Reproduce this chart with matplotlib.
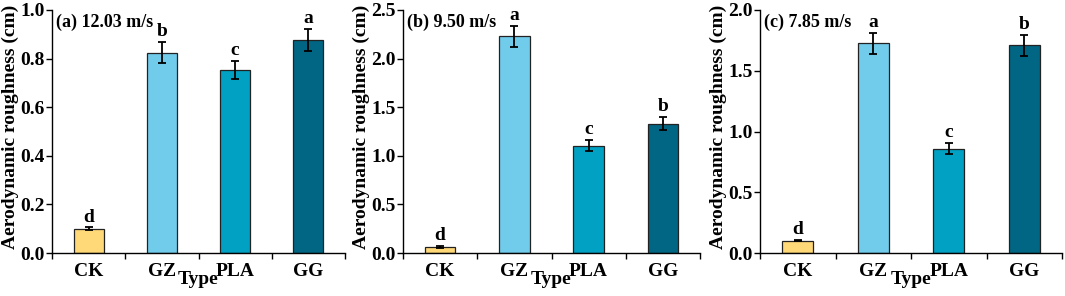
import matplotlib
matplotlib.use("Agg")
import matplotlib.pyplot as plt
import numpy as np

plt.rcParams['font.family'] = ['Liberation Serif', 'DejaVu Serif']
plt.rcParams['font.weight'] = 'bold'

categories = ["CK", "GZ", "PLA", "GG"]
colors = ["#FFD877", "#71CBEB", "#00A1C3", "#006684"]

titles = ["(a) 12.03 m/s", "(b) 9.50 m/s", "(c) 7.85 m/s"]
means_a = [0.100, 0.825, 0.753, 0.878]
errs_a = [0.005, 0.042, 0.037, 0.045]
letters_a = ["d", "b", "c", "a"]
means_b = [0.062, 2.23, 1.105, 1.33]
errs_b = [0.008, 0.11, 0.058, 0.065]
letters_b = ["d", "a", "c", "b"]
means_c = [0.100, 1.725, 0.858, 1.71]
errs_c = [0.005, 0.085, 0.045, 0.085]
letters_c = ["d", "a", "c", "b"]
ylims = [1.0, 2.5, 2.0]
ysteps = [0.2, 0.5, 0.5]

fig = plt.figure(figsize=(10.65, 2.96), dpi=100)
W, H = 1065, 296
boxes = [(52, 345), (403, 700), (760, 1062)]
top_px, bot_px = 10, 253
ah = bot_px - top_px

data = [(means_a, errs_a, letters_a), (means_b, errs_b, letters_b), (means_c, errs_c, letters_c)]
for i, ((l, r), (m, e, let)) in enumerate(zip(boxes, data)):
    aw = r - l
    ax = fig.add_axes([l / W, (H - bot_px) / H, aw / W, ah / H])
    x = np.arange(len(categories))
    ax.bar(x, m, width=0.41, color=colors, edgecolor="#222222", linewidth=0.9, zorder=2)
    ax.errorbar(x, m, yerr=e, fmt="none", ecolor="black", elinewidth=1.3,
                capsize=3.2, capthick=1.3, zorder=3)
    ymax = ylims[i]
    for xi, mi, ei, li in zip(x, m, e, let):
        ax.text(xi, mi + ei + ymax * 0.008, li, ha="center", va="bottom",
                fontsize=14, fontweight="bold")
    ax.set_xlim(-0.5, 3.5)
    ax.set_ylim(0, ymax)
    yt = np.arange(0, ymax + 1e-9, ysteps[i])
    ax.set_yticks(yt)
    ax.set_yticklabels([f"{v:.1f}" for v in yt])
    ax.set_xticks([-0.5, 0.5, 1.5, 2.5, 3.5])
    ax.set_xticklabels([])
    ax.set_xticks(x, minor=True)
    ax.set_xticklabels(categories, minor=True)
    ax.tick_params(axis="x", which="major", direction="out", length=4, width=1)
    ax.tick_params(axis="x", which="minor", length=0, labelsize=14, pad=7)
    ax.tick_params(axis="y", direction="out", length=4, width=1, labelsize=14, pad=1)
    for lab in ax.get_xticklabels(minor=True) + ax.get_yticklabels():
        lab.set_fontweight("bold")
    ax.spines["top"].set_visible(False)
    ax.spines["right"].set_visible(False)
    ax.spines["left"].set_linewidth(1)
    ax.spines["bottom"].set_linewidth(1)
    ax.set_ylabel("Aerodynamic roughness (cm)", fontsize=14, fontweight="bold")
    ax.yaxis.set_label_coords(-33 / aw, 0.52)
    ax.set_xlabel("Type", fontsize=14, fontweight="bold")
    ax.xaxis.set_label_coords(0.5, -0.074)
    ax.text(0.012, 0.985, titles[i], transform=ax.transAxes, ha="left", va="top",
            fontsize=13, fontweight="bold")

fig.savefig("out.png", dpi=100)
